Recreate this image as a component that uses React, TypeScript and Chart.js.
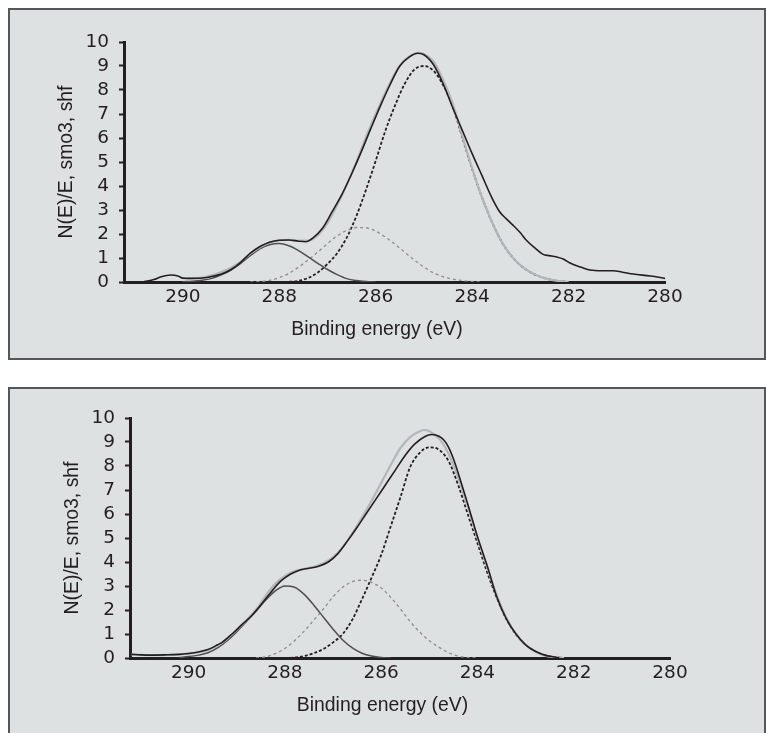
import React, { useEffect, useRef } from "react";
import { Chart, registerables } from "chart.js";

Chart.register(...registerables);

const INK = "#231f20";
const X_TITLE = "Binding energy (eV)";
const Y_TITLE = "N(E)/E, smo3, shf";
const X_MIN = 280;
const X_MAX = 291.22;
const Y_MIN = 0;
const Y_MAX = 10;

// ---------- Panel 1 (top) ----------
const p1MeasuredE = [290.8, 290.6, 290.45, 290.25, 290.1, 290.0, 289.8, 289.5, 289.2, 289.0, 288.8, 288.6, 288.4, 288.2, 288.0, 287.8, 287.6, 287.45, 287.3, 287.1, 286.9, 286.7, 286.5, 286.3, 286.1, 285.9, 285.7, 285.5, 285.3, 285.13, 285.0, 284.8, 284.6, 284.4, 284.2, 284.0, 283.8, 283.6, 283.43, 283.3, 283.16, 283.0, 282.88, 282.7, 282.53, 282.4, 282.26, 282.1, 281.98, 281.75, 281.56, 281.3, 281.08, 280.9, 280.66, 280.3, 280.0];
const p1Measured = [0.02, 0.1, 0.22, 0.29, 0.25, 0.16, 0.15, 0.19, 0.33, 0.52, 0.82, 1.2, 1.48, 1.66, 1.74, 1.75, 1.7, 1.68, 1.84, 2.25, 2.94, 3.65, 4.5, 5.42, 6.4, 7.35, 8.23, 9.0, 9.38, 9.53, 9.47, 9.05, 8.25, 7.25, 6.3, 5.35, 4.45, 3.55, 2.93, 2.65, 2.38, 2.05, 1.75, 1.42, 1.15, 1.1, 1.05, 0.95, 0.8, 0.62, 0.5, 0.47, 0.47, 0.42, 0.33, 0.25, 0.15];

const p1EnvelopeE = [289.9, 289.6, 289.4, 289.2, 289.0, 288.8, 288.6, 288.4, 288.2, 288.0, 287.8, 287.6, 287.4, 287.2, 287.0, 286.8, 286.6, 286.4, 286.2, 286.0, 285.8, 285.6, 285.4, 285.2, 285.1, 285.0, 284.8, 284.6, 284.4, 284.2, 284.0, 283.8, 283.6, 283.4, 283.2, 283.0, 282.8, 282.6, 282.4, 282.2, 282.0];
const p1Envelope = [0.15, 0.18, 0.28, 0.42, 0.6, 0.85, 1.18, 1.45, 1.65, 1.74, 1.76, 1.72, 1.72, 1.95, 2.45, 3.2, 4.05, 5.0, 6.05, 7.0, 7.9, 8.7, 9.25, 9.5, 9.55, 9.5, 9.18, 8.42, 7.42, 6.06, 4.74, 3.55, 2.55, 1.72, 1.12, 0.7, 0.42, 0.23, 0.11, 0.04, 0.0];

const p1PeakAE = [290.0, 289.8, 289.6, 289.4, 289.2, 289.0, 288.8, 288.6, 288.4, 288.2, 288.0, 287.8, 287.6, 287.4, 287.2, 287.0, 286.8, 286.6, 286.4, 286.2, 286.0];
const p1PeakA = [0.01, 0.03, 0.07, 0.15, 0.3, 0.5, 0.78, 1.1, 1.38, 1.55, 1.6, 1.51, 1.31, 1.05, 0.78, 0.52, 0.31, 0.14, 0.06, 0.02, 0.0];

const p1PeakBE = [288.6, 288.4, 288.2, 288.0, 287.8, 287.6, 287.4, 287.2, 287.0, 286.8, 286.6, 286.4, 286.2, 286.0, 285.8, 285.6, 285.4, 285.2, 285.0, 284.8, 284.6, 284.4, 284.2, 284.0, 283.8];
const p1PeakB = [0.0, 0.02, 0.07, 0.18, 0.36, 0.62, 0.92, 1.25, 1.6, 1.92, 2.15, 2.27, 2.26, 2.12, 1.87, 1.58, 1.24, 0.92, 0.62, 0.38, 0.22, 0.12, 0.06, 0.02, 0.0];

const p1PeakCE = [288.0, 287.8, 287.6, 287.4, 287.2, 287.0, 286.8, 286.6, 286.4, 286.2, 286.0, 285.8, 285.6, 285.4, 285.2, 285.0, 284.8, 284.6, 284.4, 284.2, 284.0, 283.8, 283.6, 283.4, 283.2, 283.0, 282.8, 282.6, 282.4, 282.2, 282.0];
const p1PeakC = [0.0, 0.01, 0.05, 0.17, 0.4, 0.75, 1.2, 1.85, 2.75, 3.85, 5.05, 6.3, 7.35, 8.25, 8.85, 9.0, 8.8, 8.2, 7.3, 6.0, 4.72, 3.55, 2.55, 1.72, 1.12, 0.7, 0.42, 0.23, 0.11, 0.04, 0.0];

// ---------- Panel 2 (bottom) ----------
const p2MeasuredE = [291.2, 291.0, 290.8, 290.5, 290.2, 290.0, 289.8, 289.6, 289.4, 289.3, 289.1, 288.9, 288.7, 288.5, 288.3, 288.1, 287.9, 287.7, 287.5, 287.3, 287.1, 286.9, 286.7, 286.5, 286.3, 286.1, 285.9, 285.7, 285.5, 285.3, 285.1, 284.95, 284.8, 284.7, 284.6, 284.5, 284.4, 284.3, 284.2, 284.0, 283.8, 283.6, 283.4, 283.2, 283.0, 282.8, 282.6, 282.4, 282.3];
const p2Measured = [0.15, 0.13, 0.12, 0.13, 0.15, 0.19, 0.25, 0.35, 0.55, 0.66, 1.0, 1.38, 1.75, 2.22, 2.72, 3.18, 3.48, 3.66, 3.74, 3.82, 4.0, 4.35, 4.88, 5.45, 6.05, 6.65, 7.25, 7.85, 8.45, 8.92, 9.22, 9.31, 9.24, 9.08, 8.78, 8.3, 7.7, 7.05, 6.4, 5.05, 3.85, 2.55, 1.63, 1.0, 0.55, 0.28, 0.12, 0.04, 0.0];

const p2EnvelopeE = [291.2, 290.8, 290.4, 290.0, 289.8, 289.6, 289.4, 289.2, 289.0, 288.8, 288.6, 288.4, 288.2, 288.0, 287.8, 287.6, 287.4, 287.2, 287.0, 286.8, 286.6, 286.4, 286.2, 286.0, 285.8, 285.6, 285.4, 285.2, 285.1, 285.0, 284.8, 284.6, 284.4, 284.2, 284.0, 283.8, 283.6, 283.4, 283.2, 283.0, 282.8, 282.6, 282.4, 282.2];
const p2Envelope = [0.15, 0.12, 0.13, 0.18, 0.24, 0.34, 0.52, 0.8, 1.18, 1.58, 2.02, 2.6, 3.1, 3.42, 3.62, 3.72, 3.8, 3.95, 4.2, 4.62, 5.2, 5.85, 6.55, 7.3, 8.05, 8.75, 9.2, 9.45, 9.5, 9.45, 9.15, 8.5, 7.5, 6.3, 5.0, 3.8, 2.62, 1.68, 1.0, 0.55, 0.27, 0.1, 0.03, 0.0];

const p2PeakAE = [290.2, 290.0, 289.8, 289.6, 289.4, 289.2, 289.0, 288.8, 288.6, 288.4, 288.2, 288.0, 287.8, 287.6, 287.4, 287.2, 287.0, 286.8, 286.6, 286.4, 286.2, 286.0, 285.8];
const p2PeakA = [0.02, 0.06, 0.12, 0.22, 0.42, 0.72, 1.1, 1.52, 1.95, 2.42, 2.8, 3.0, 2.95, 2.65, 2.2, 1.7, 1.2, 0.75, 0.42, 0.2, 0.08, 0.02, 0.0];

const p2PeakBE = [288.6, 288.4, 288.2, 288.0, 287.8, 287.6, 287.4, 287.2, 287.0, 286.8, 286.6, 286.4, 286.2, 286.0, 285.8, 285.6, 285.4, 285.2, 285.0, 284.8, 284.6, 284.4, 284.2, 284.0];
const p2PeakB = [0.0, 0.05, 0.18, 0.4, 0.72, 1.12, 1.58, 2.05, 2.55, 2.95, 3.18, 3.24, 3.15, 2.92, 2.52, 2.04, 1.52, 1.08, 0.72, 0.45, 0.22, 0.08, 0.02, 0.0];

const p2PeakCE = [288.0, 287.8, 287.6, 287.4, 287.2, 287.0, 286.8, 286.6, 286.4, 286.2, 286.0, 285.8, 285.6, 285.4, 285.2, 285.0, 284.8, 284.6, 284.4, 284.2, 284.0, 283.8, 283.6, 283.4, 283.2, 283.0, 282.8, 282.6, 282.4, 282.2];
const p2PeakC = [0.0, 0.02, 0.08, 0.2, 0.38, 0.65, 1.0, 1.6, 2.45, 3.35, 4.3, 5.5, 6.7, 7.95, 8.55, 8.78, 8.68, 8.2, 7.2, 5.98, 4.78, 3.58, 2.52, 1.62, 0.98, 0.55, 0.28, 0.12, 0.04, 0.0];

type Series = { e: number[]; v: number[] };
type PanelSpec = {
  top: number;
  area: { left: number; right: number; top: number; bottom: number };
  measured: Series;
  envelope: Series;
  peakA: Series;
  peakB: Series;
  peakC: Series;
};

const PANELS: PanelSpec[] = [
  {
    top: 8,
    area: { left: 114, right: 655, top: 32, bottom: 272 },
    measured: { e: p1MeasuredE, v: p1Measured },
    envelope: { e: p1EnvelopeE, v: p1Envelope },
    peakA: { e: p1PeakAE, v: p1PeakA },
    peakB: { e: p1PeakBE, v: p1PeakB },
    peakC: { e: p1PeakCE, v: p1PeakC },
  },
  {
    top: 387,
    area: { left: 120, right: 660, top: 29, bottom: 269 },
    measured: { e: p2MeasuredE, v: p2Measured },
    envelope: { e: p2EnvelopeE, v: p2Envelope },
    peakA: { e: p2PeakAE, v: p2PeakA },
    peakB: { e: p2PeakBE, v: p2PeakB },
    peakC: { e: p2PeakCE, v: p2PeakC },
  },
];

const CW = 754;
const CH = 348;

const xy = (s: Series) => s.e.map((x, i) => ({ x, y: s.v[i] }));

function XpsPanel({ spec }: { spec: PanelSpec }) {
  const ref = useRef<HTMLCanvasElement | null>(null);

  useEffect(() => {
    if (!ref.current) return;
    const a0 = spec.area;
    const titlePlugin = {
      id: "axisTitles",
      afterDraw(chart: any) {
        const { ctx, chartArea: a } = chart;
        ctx.save();
        ctx.fillStyle = INK;
        ctx.font = '19.4px "Liberation Sans", Arial, sans-serif';
        ctx.textAlign = "center";
        ctx.textBaseline = "alphabetic";
        ctx.fillText(X_TITLE, (a.left + a.right) / 2 - 17.5, a.bottom + 53);
        ctx.translate(a.left - 52, (a.top + a.bottom) / 2);
        ctx.rotate(-Math.PI / 2);
        ctx.fillText(Y_TITLE, 0, 0);
        ctx.restore();
      },
    };

    const tickFont = { family: '"DejaVu Sans", sans-serif', size: 18.5 };

    const chart = new Chart(ref.current, {
      type: "line",
      data: {
        datasets: [
          { data: xy(spec.measured), borderColor: INK, borderWidth: 1.6 },
          { data: xy(spec.envelope), borderColor: "#b4b7b9", borderWidth: 2.2 },
          { data: xy(spec.peakA), borderColor: "#4f4f4f", borderWidth: 1.5 },
          { data: xy(spec.peakB), borderColor: "#8d8d8d", borderWidth: 1.3, borderDash: [3, 3] },
          { data: xy(spec.peakC), borderColor: INK, borderWidth: 1.8, borderDash: [3, 2] },
        ] as any,
      },
      options: {
        responsive: false,
        animation: false,
        events: [],
        layout: { padding: { left: 0, top: a0.top, right: CW - a0.right, bottom: 0 } },
        elements: {
          point: { radius: 0 },
          line: { cubicInterpolationMode: "monotone", fill: false },
        },
        plugins: { legend: { display: false }, tooltip: { enabled: false }, title: { display: false } },
        scales: {
          x: {
            type: "linear",
            reverse: true,
            min: X_MIN,
            max: X_MAX,
            afterFit: (s: any) => {
              s.height = CH - a0.bottom;
            },
            grid: { display: false, drawTicks: false },
            border: { display: true, color: INK, width: 3 },
            ticks: {
              stepSize: 2,
              includeBounds: false,
              autoSkip: false,
              maxRotation: 0,
              color: INK,
              font: tickFont,
              padding: 4,
              callback: (v: any) => String(v),
            },
          },
          y: {
            type: "linear",
            min: Y_MIN,
            max: Y_MAX,
            afterFit: (s: any) => {
              s.width = a0.left;
            },
            grid: { drawOnChartArea: false, drawTicks: true, tickLength: 5, tickWidth: 2, tickColor: INK },
            border: { display: true, color: INK, width: 3 },
            ticks: { stepSize: 1, autoSkip: false, color: INK, font: tickFont, padding: 10 },
          },
        },
      } as any,
      plugins: [titlePlugin],
    });
    return () => chart.destroy();
  }, [spec]);

  return (
    <div
      style={{
        position: "absolute",
        left: 8,
        top: spec.top,
        width: 758,
        height: 352,
        boxSizing: "border-box",
        border: "2px solid #555759",
        background: "#dee1e2",
      }}
    >
      <canvas ref={ref} width={CW} height={CH} style={{ display: "block", width: CW, height: CH }} />
    </div>
  );
}

export default function App() {
  return (
    <div
      style={{
        position: "absolute",
        left: 0,
        top: 0,
        width: 766,
        height: 733,
        overflow: "hidden",
        background: "#ffffff",
      }}
    >
      {PANELS.map((p, i) => (
        <XpsPanel key={i} spec={p} />
      ))}
    </div>
  );
}
